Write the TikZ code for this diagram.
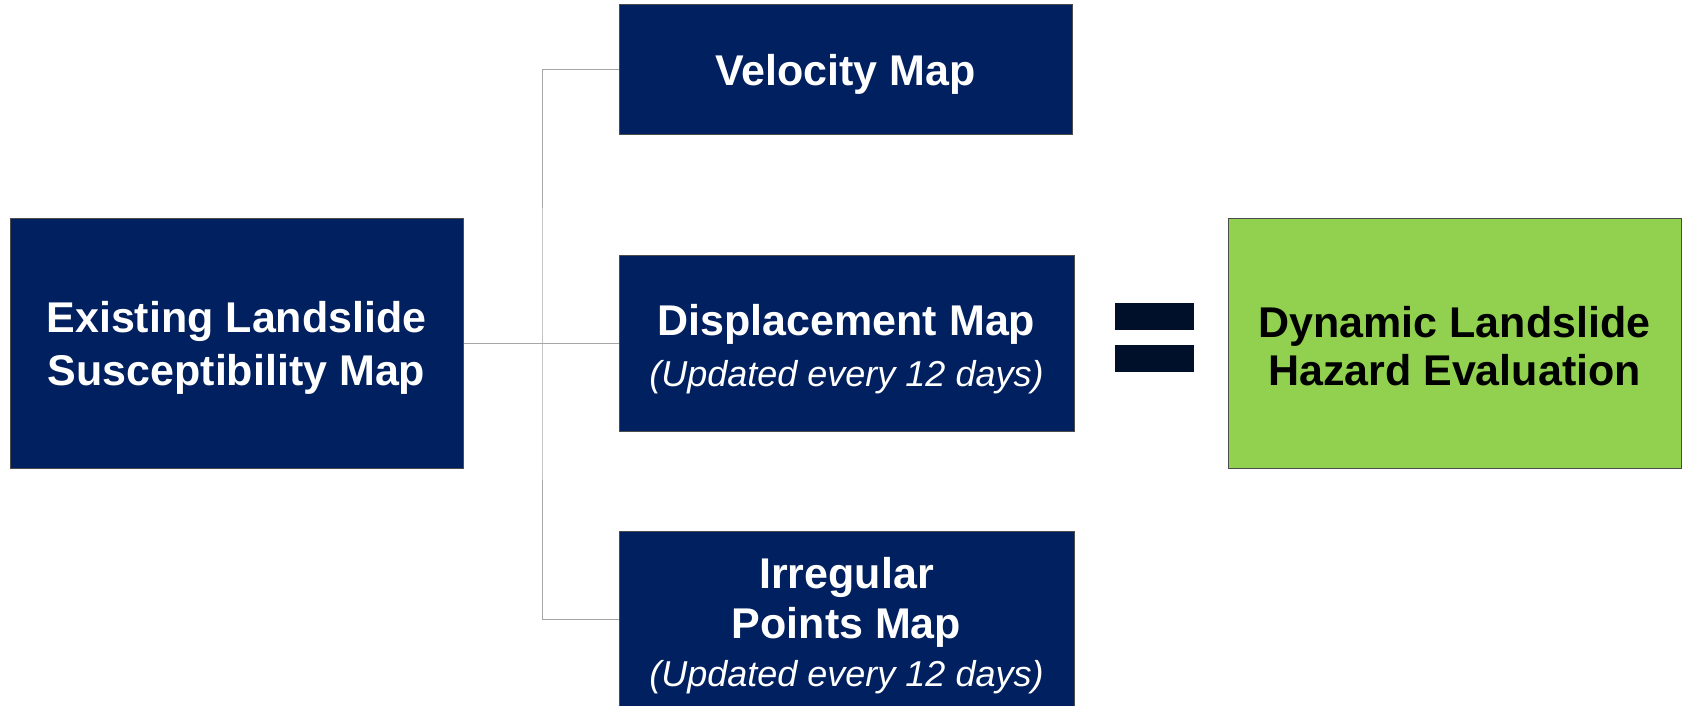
\documentclass[tikz,border=0pt]{standalone}
\usepackage{fontspec}
\setmainfont{Liberation Sans}
\definecolor{navy}{HTML}{002060}
\definecolor{leaf}{HTML}{92D050}
\definecolor{barcol}{HTML}{00102A}
\definecolor{wirecol}{HTML}{A6A6A6}
\begin{document}
\begin{tikzpicture}[x=1pt,y=-1pt,
  mapbox/.style={draw=black!70, line width=1pt, fill=navy, inner sep=0pt},
  resultbox/.style={draw=black!70, line width=1pt, fill=leaf, inner sep=0pt},
  maptext/.style={text=white, inner sep=0pt, align=center,
    font=\fontsize{43}{53}\selectfont\bfseries},
  resulttext/.style={text=black, inner sep=0pt, align=center,
    font=\fontsize{43}{48}\selectfont\bfseries},
  wire/.style={draw=wirecol, line width=1pt}
]
\useasboundingbox (0,0) rectangle (1682,706);

% source map
\node[mapbox, minimum width=453pt, minimum height=250pt] (exist) at (236.5,343) {};
\node[maptext] (exist-t) at ([yshift=-4.5pt]exist.center)
  {Existing Landslide\\Susceptibility Map};

% monitoring products
\node[mapbox, minimum width=453pt, minimum height=130pt] (vel) at (845.5,70) {};
\node[maptext] (vel-t) at ([yshift=-4.5pt]vel.center) {Velocity Map};

\node[mapbox, minimum width=455pt, minimum height=176pt] (disp) at (846.5,343) {};
\node[maptext, font=\fontsize{43}{51}\selectfont\bfseries] (disp-t)
  at ([yshift=-6pt]disp.center)
  {Displacement Map\\{\fontsize{36}{51}\selectfont\mdseries\itshape (Updated every 12 days)}};

\node[mapbox, minimum width=455pt, minimum height=176pt] (irr) at (846.5,619) {};
\node[maptext, font=\fontsize{43}{50}\selectfont\bfseries] (irr-t)
  at ([yshift=-7pt]irr.center)
  {Irregular\\Points Map\\[-2pt]{\fontsize{36}{50}\selectfont\mdseries\itshape (Updated every 12 days)}};

% result
\node[resultbox, minimum width=453pt, minimum height=250pt] (dyn) at (1454.5,343) {};
\node[resulttext] (dyn-t) at ([yshift=-3pt]dyn.center)
  {Dynamic Landslide\\Hazard Evaluation};

% equals sign
\fill[barcol] (1115,303) rectangle (1194,330);
\fill[barcol] (1115,345) rectangle (1194,372);

% connectors
\coordinate (bus) at (542,343);
\draw[wire] (exist.east) -- (disp.west);
\draw[wire] (vel.west) -| (bus) |- (irr.west);
\end{tikzpicture}
\end{document}
